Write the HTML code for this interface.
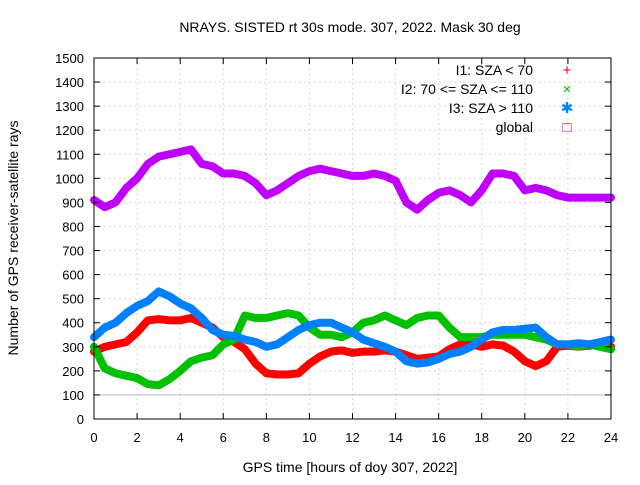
<!DOCTYPE html>
<html><head><meta charset="utf-8"><style>
body{margin:0;background:#fff}
svg{font-family:"Liberation Sans",sans-serif;font-size:13px}
</style></head><body>
<svg id="c" width="640" height="480">
<text x="350" y="32" text-anchor="middle" font-size="14">NRAYS. SISTED rt 30s mode. 307, 2022. Mask 30 deg</text>
<text x="350" y="472" text-anchor="middle" font-size="14">GPS time [hours of doy 307, 2022]</text>
<text transform="translate(18,238) rotate(-90)" text-anchor="middle" font-size="14">Number of GPS receiver-satellite rays</text>
<g id="grid"></g><g id="series"></g><g id="ticks"></g>
<rect x="94" y="58" width="517" height="361" fill="none" stroke="#000"/>
<g id="legend"></g>
</svg>
<script>
const hours=[0,0.5,1,1.5,2,2.5,3,3.5,4,4.5,5,5.5,6,6.5,7,7.5,8,8.5,9,9.5,10,10.5,11,11.5,12,12.5,13,13.5,14,14.5,15,15.5,16,16.5,17,17.5,18,18.5,19,19.5,20,20.5,21,21.5,22,22.5,23,23.5,24];
const red=[280,300,310,320,360,410,415,410,410,420,400,380,340,320,290,230,190,185,185,190,230,260,280,285,275,280,280,285,280,265,250,255,260,290,310,310,300,310,305,280,240,220,240,300,305,300,305,310,300];
const green=[300,210,190,180,170,145,140,165,200,240,255,265,310,330,430,420,420,430,440,430,380,350,350,340,360,400,410,430,410,390,420,430,430,380,340,340,340,350,350,350,350,340,330,310,310,300,310,300,290];
const blue=[340,380,400,440,470,490,530,510,480,460,420,370,350,345,330,320,300,310,340,370,390,400,400,380,360,330,315,300,280,240,230,235,250,270,280,300,330,360,370,370,375,380,340,310,310,315,310,320,330];
const globalN=[910,880,900,960,1000,1060,1090,1100,1110,1120,1060,1050,1020,1020,1010,980,930,950,980,1010,1030,1040,1030,1020,1010,1010,1020,1010,990,900,870,910,940,950,930,900,950,1020,1020,1010,950,960,950,930,920,920,920,920,920];
const xTicks=[0,2,4,6,8,10,12,14,16,18,20,22,24];
const yTicks=[0,100,200,300,400,500,600,700,800,900,1000,1100,1200,1300,1400,1500];
const legendLabels=["I1: SZA < 70","I2: 70 <= SZA <= 110","I3: SZA > 110","global"];
const NS="http://www.w3.org/2000/svg";
const X=h=>94+h*(517/24), Y=v=>419-v*(361/1500);
function mk(t,p,a){const e=document.createElementNS(NS,t);for(const k in a)e.setAttribute(k,a[k]);p.appendChild(e);return e;}
const grid=document.getElementById('grid'),ticks=document.getElementById('ticks');
xTicks.forEach(t=>{
 const l=mk('line',grid,{x1:X(t),x2:X(t),y1:58,y2:419,stroke:'#d8d8d8','stroke-dasharray':'2,3','stroke-width':1});
 
 
 mk('line',ticks,{x1:X(t),x2:X(t),y1:419,y2:413,stroke:'#000'});
 mk('line',ticks,{x1:X(t),x2:X(t),y1:58,y2:64,stroke:'#000'});
 const tx=mk('text',ticks,{x:X(t),y:442,'text-anchor':'middle'});tx.textContent=t;
 
 
});
yTicks.forEach(t=>{
 const l=mk('line',grid,{x1:94,x2:611,y1:Y(t),y2:Y(t),stroke:'#d8d8d8','stroke-dasharray':'2,3','stroke-width':1});
 
 
 mk('line',ticks,{x1:94,x2:100,y1:Y(t),y2:Y(t),stroke:'#000'});
 mk('line',ticks,{x1:605,x2:611,y1:Y(t),y2:Y(t),stroke:'#000'});
 const tx=mk('text',ticks,{x:84,y:Y(t)+5,'text-anchor':'end'});tx.textContent=t;
 
 
});
const ref=mk('line',grid,{x1:94,x2:611,y1:Y(100),y2:Y(100),stroke:'#bbb','stroke-width':1});


const ser=document.getElementById('series');
const defs=[[red,'#ff0000','series-i1'],[green,'#00c000','series-i2'],[blue,'#0080ff','series-i3'],[globalN,'#c000ff','series-global']];
defs.forEach(([d,c,n])=>{
 const p=mk('polyline',ser,{points:d.map((v,i)=>X(hours[i])+','+Y(v)).join(' '),fill:'none',stroke:c,'stroke-width':8,'stroke-linejoin':'round','stroke-linecap':'round'});
 
 
});
const lg=document.getElementById('legend');
const ly=[70,89,108,127],glyphs=['+','×','✱','□'],cols=['#ff0000','#00c000','#0080ff','#c000ff'];
legendLabels.forEach((s,i)=>{
 const t=mk('text',lg,{x:533,y:ly[i]+5,'text-anchor':'end','font-size':14});t.textContent=s;
 
 
 const g=mk('text',lg,{x:567,y:ly[i]+5,'text-anchor':'middle',fill:cols[i],'font-size':15});g.textContent=glyphs[i];
 
 
});
</script>
</body></html>
